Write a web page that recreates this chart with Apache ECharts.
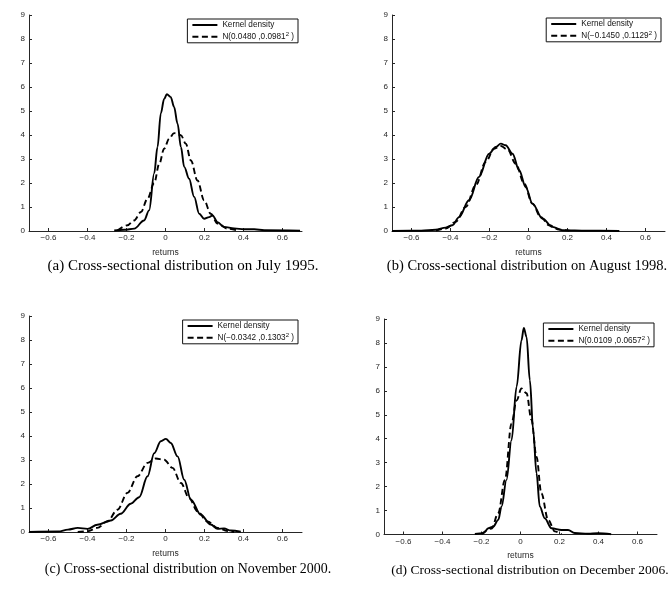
<!DOCTYPE html>
<html>
<head>
<meta charset="utf-8">
<script src="https://cdn.jsdelivr.net/npm/echarts@6/dist/echarts.min.js"></script>
<style>
  html, body { margin: 0; padding: 0; background: #fff; }
  #chart { width: 671px; height: 590px; }
</style>
</head>
<body>
<div id="chart"></div>
<script>
// ---------- data ----------
const xTicks = [-0.6, -0.4, -0.2, 0, 0.2, 0.4, 0.6];
const yTicks = [0, 1, 2, 3, 4, 5, 6, 7, 8, 9];

const kernelName = 'Kernel density';
const normNames = [
  'N(0.0480 ,0.0981² )',
  'N(−0.1450 ,0.1129² )',
  'N(−0.0342 ,0.1303² )',
  'N(0.0109 ,0.0657² )'
];
const captions = [
  '(a) Cross-sectional distribution on July 1995.',
  '(b) Cross-sectional distribution on August 1998.',
  '(c) Cross-sectional distribution on November 2000.',
  '(d) Cross-sectional distribution on December 2006.'
];

// (a) July 1995
const kernelA = [[-0.263,0.02],[-0.21,0.05],[-0.16,0.1],[-0.11,0.44],[-0.084,0.86],[-0.058,2.4],[-0.041,3.5],[-0.024,4.9],[-0.007,5.5],[0.007,5.7],[0.027,5.58],[0.044,5.17],[0.062,4.47],[0.079,3.5],[0.096,2.67],[0.121,2.18],[0.147,1.42],[0.173,0.72],[0.198,0.51],[0.224,0.58],[0.241,0.65],[0.267,0.37],[0.30,0.17],[0.352,0.11],[0.403,0.07],[0.455,0.07],[0.506,0.03],[0.69,0.01]];
const normA = [[-0.246,0.02],[-0.195,0.24],[-0.161,0.44],[-0.126,0.79],[-0.092,1.35],[-0.058,2.0],[-0.032,2.8],[-0.007,3.43],[0.019,3.85],[0.044,4.08],[0.079,3.99],[0.104,3.64],[0.13,2.94],[0.164,2.11],[0.198,1.28],[0.232,0.72],[0.267,0.31],[0.318,0.1],[0.369,0.02]];

// (b) August 1998
const kernelB = [[-0.7,0.0],[-0.55,0.01],[-0.476,0.05],[-0.425,0.14],[-0.39,0.24],[-0.356,0.58],[-0.305,1.28],[-0.254,2.25],[-0.202,3.22],[-0.168,3.5],[-0.142,3.64],[-0.117,3.57],[-0.082,3.22],[-0.048,2.53],[-0.014,1.83],[0.02,1.14],[0.072,0.51],[0.123,0.17],[0.175,0.03],[0.3,0.01],[0.466,0.0]];
const normB = [[-0.475,0.02],[-0.425,0.1],[-0.374,0.38],[-0.322,1.0],[-0.271,1.9],[-0.219,2.88],[-0.177,3.43],[-0.142,3.54],[-0.108,3.4],[-0.065,2.8],[-0.022,1.97],[0.02,1.14],[0.063,0.58],[0.106,0.24],[0.157,0.06],[0.209,0.01]];

// (c) November 2000
const kernelC = [[-0.7,0.0],[-0.55,0.02],[-0.5,0.1],[-0.45,0.17],[-0.4,0.13],[-0.35,0.3],[-0.28,0.48],[-0.23,0.76],[-0.178,1.18],[-0.135,1.45],[-0.092,2.32],[-0.058,3.28],[-0.024,3.78],[0.002,3.88],[0.027,3.71],[0.062,3.15],[0.096,2.18],[0.13,1.35],[0.181,0.72],[0.232,0.31],[0.267,0.13],[0.30,0.15],[0.335,0.06],[0.386,0.01]];
const normC = [[-0.45,0.0],[-0.4,0.03],[-0.35,0.17],[-0.298,0.44],[-0.246,0.93],[-0.195,1.63],[-0.144,2.32],[-0.092,2.88],[-0.05,3.06],[-0.007,3.01],[0.036,2.67],[0.079,2.04],[0.121,1.42],[0.164,0.86],[0.215,0.44],[0.267,0.17],[0.318,0.04],[0.352,0.0]];

// (d) December 2006
const kernelD = [[-0.234,0.02],[-0.19,0.05],[-0.165,0.26],[-0.14,0.33],[-0.114,0.61],[-0.097,1.17],[-0.072,2.28],[-0.046,3.94],[-0.02,6.17],[0.005,8.11],[0.017,8.63],[0.031,8.25],[0.048,6.44],[0.065,4.36],[0.082,2.56],[0.099,1.17],[0.124,0.68],[0.159,0.26],[0.21,0.19],[0.244,0.19],[0.278,0.06],[0.346,0.03],[0.397,0.05],[0.465,0.01]];
const normD = [[-0.2,0.02],[-0.148,0.25],[-0.114,0.9],[-0.08,2.28],[-0.046,4.64],[-0.02,5.6],[0.005,6.1],[0.031,5.9],[0.056,4.8],[0.082,3.25],[0.107,1.72],[0.142,0.61],[0.176,0.13],[0.21,0.01]];

const kernels = [kernelA, kernelB, kernelC, kernelD];
const norms = [normA, normB, normC, normD];

// ---------- layout ----------
const grids = [
  { left: 29,  top: 15,  width: 273, height: 216 },
  { left: 392, top: 15,  width: 273, height: 216 },
  { left: 29,  top: 316, width: 273, height: 216 },
  { left: 384, top: 319, width: 273, height: 215.5 }
];
const legendPos = [
  { right: 373, top: 19 },
  { right: 10,  top: 18 },
  { right: 373, top: 320 },
  { right: 17,  top: 323 }
];
const captionPos = [[183, 266, 15], [527, 266, 14.5], [188, 569, 13.9], [530, 570, 13.5]];

const ink = '#262626';
const minus = v => String(v).replace('-', '\u2212');

const option = {
  backgroundColor: '#fff',
  animation: false,
  grid: grids.map(g => Object.assign({ containLabel: false }, g)),
  xAxis: grids.map((g, i) => ({
    type: 'value', gridIndex: i, min: -0.7, max: 0.7,
    name: 'returns', nameLocation: 'middle', nameGap: 17,
    nameTextStyle: { fontSize: 8.5, color: ink, fontFamily: 'Liberation Sans' },
    axisLine: { onZero: false, lineStyle: { color: ink, width: 1 } },
    axisTick: { inside: true, length: 3, customValues: xTicks, lineStyle: { color: ink } },
    axisLabel: { customValues: xTicks, margin: 3, fontSize: 8, color: ink, fontFamily: 'Liberation Sans', formatter: v => minus(v) },
    splitLine: { show: false }
  })),
  yAxis: grids.map((g, i) => ({
    type: 'value', gridIndex: i, min: yTicks[0], max: yTicks[yTicks.length - 1], interval: 1,
    axisLine: { show: true, onZero: false, lineStyle: { color: ink, width: 1 } },
    axisTick: { show: true, inside: true, length: 3, lineStyle: { color: ink } },
    axisLabel: { margin: 4, fontSize: 8, color: ink, fontFamily: 'Liberation Sans' },
    splitLine: { show: false }
  })),
  legend: grids.map((g, i) => ({
    orient: 'vertical',
    right: legendPos[i].right, top: legendPos[i].top,
    data: [kernelName, normNames[i]],
    backgroundColor: '#fff',
    borderColor: '#111', borderWidth: 1,
    padding: [2, 4, 2, 4], itemGap: 2.3,
    itemWidth: 25, itemHeight: 10,
    selectedMode: false,
    itemStyle: { color: 'rgba(0,0,0,0)', borderColor: 'rgba(0,0,0,0)', borderWidth: 0, opacity: 0 },
    formatter: name => name.replace('²', '{sup|2}'),
    textStyle: {
      fontSize: 8.2, color: '#111', fontFamily: 'Liberation Sans',
      rich: { sup: { fontSize: 6, color: '#111', fontFamily: 'Liberation Sans', verticalAlign: 'top', padding: [0, 0, 5, 0] } }
    }
  })),
  series: [].concat(...grids.map((g, i) => [
    {
      name: kernelName, type: 'line', xAxisIndex: i, yAxisIndex: i,
      data: kernels[i], showSymbol: false, symbol: 'none',
      smooth: 0.35, smoothMonotone: 'x',
      lineStyle: { color: '#000', width: 1.9, type: 'solid' },
      itemStyle: { color: '#000' }, z: 3
    },
    {
      name: normNames[i], type: 'line', xAxisIndex: i, yAxisIndex: i,
      data: norms[i], showSymbol: false, symbol: 'none',
      smooth: 0.35, smoothMonotone: 'x',
      lineStyle: { color: '#000', width: 1.9, type: [6, 3.5] },
      itemStyle: { color: '#000' }, z: 2
    }
  ])),
  graphic: captions.map((c, i) => ({
    type: 'text', x: captionPos[i][0], y: captionPos[i][1],
    style: { text: c, align: 'center', verticalAlign: 'middle', fill: '#000', font: captionPos[i][2] + 'px "Liberation Serif"' }
  }))
};

const chart = echarts.init(document.getElementById('chart'), null, { renderer: 'canvas' });
chart.setOption(option);
</script>
</body>
</html>
